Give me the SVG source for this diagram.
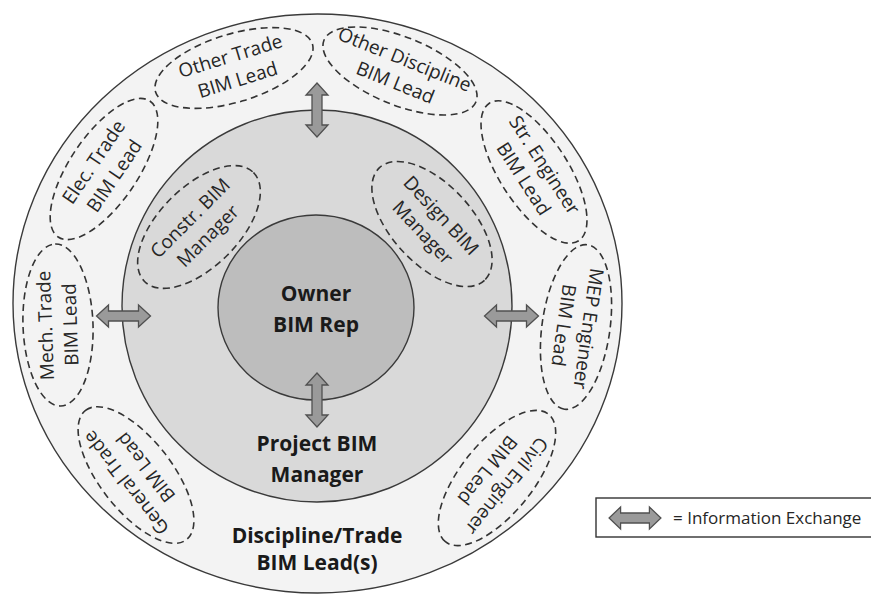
<svg xmlns="http://www.w3.org/2000/svg" xmlns:xlink="http://www.w3.org/1999/xlink" width="871" height="595" viewBox="0 0 871 595">
  <style>
    .ring { stroke: #3a3a3a; stroke-width: 1.4; }
    .dash { fill: none; stroke: #333; stroke-width: 1.6; stroke-dasharray: 7 4.5; }
    .lbl { font-family: "Open Sans", "Noto Sans", sans-serif; font-size: 19px; fill: #262626; text-anchor: middle; }
    .big { font-family: "Open Sans", "Noto Sans", sans-serif; font-size: 21px; font-weight: bold; fill: #1a1a1a; text-anchor: middle; }
    .arrow { fill: #9a9a9a; stroke: #505050; stroke-width: 1.3; stroke-linejoin: miter; }
    .legend { font-family: "Open Sans", "Noto Sans", sans-serif; font-size: 17px; fill: #262626; }
  </style>
  <defs>
    <path id="dbl" d="M -27 0 L -15 -11 L -15 -5 L 15 -5 L 15 -11 L 27 0 L 15 11 L 15 5 L -15 5 L -15 11 Z"/>
  </defs>
  <rect x="0" y="0" width="871" height="595" fill="#ffffff"/>

  <g id="ring-discipline">
    <ellipse class="ring" cx="317.5" cy="303.5" rx="304.5" ry="289.5" fill="#f3f3f3"/>
    <text class="big" x="317" y="542.5">Discipline/Trade</text>
    <text class="big" x="317" y="570">BIM Lead(s)</text>
  </g>
  <g id="ring-project">
    <ellipse class="ring" cx="317" cy="306" rx="195" ry="196" fill="#d9d9d9"/>
    <text class="big" x="317" y="450.5">Project BIM</text>
    <text class="big" x="317" y="482">Manager</text>
  </g>
  <g id="ring-owner">
    <ellipse class="ring" cx="316" cy="307.5" rx="98" ry="92.5" fill="#bdbdbd"/>
    <text class="big" x="316" y="300.5">Owner</text>
    <text class="big" x="316" y="331.5">BIM Rep</text>
  </g>

  <g id="n-other-trade" transform="translate(234,68) rotate(-17)">
    <ellipse class="dash" rx="82" ry="34"/>
    <text class="lbl" y="-6">Other Trade</text>
    <text class="lbl" y="19">BIM Lead</text>
  </g>
  <g id="n-other-discipline" transform="translate(400,71) rotate(22)">
    <ellipse class="dash" rx="82" ry="34"/>
    <text class="lbl" y="-6">Other Discipline</text>
    <text class="lbl" y="19">BIM Lead</text>
  </g>
  <g id="n-str-engineer" transform="translate(534,172) rotate(57)">
    <ellipse class="dash" rx="82" ry="34"/>
    <text class="lbl" y="-6">Str. Engineer</text>
    <text class="lbl" y="19">BIM Lead</text>
  </g>
  <g id="n-mep-engineer" transform="translate(576,327) rotate(98)">
    <ellipse class="dash" rx="83" ry="34"/>
    <text class="lbl" y="-6">MEP Engineer</text>
    <text class="lbl" y="19">BIM Lead</text>
  </g>
  <g id="n-civil-engineer" transform="translate(497,478) rotate(129)">
    <ellipse class="dash" rx="82" ry="36"/>
    <text class="lbl" y="-6">Civil Engineer</text>
    <text class="lbl" y="19">BIM Lead</text>
  </g>
  <g id="n-general-trade" transform="translate(136,475) rotate(-128)">
    <ellipse class="dash" rx="82" ry="36"/>
    <text class="lbl" y="-6">General Trade</text>
    <text class="lbl" y="19">BIM Lead</text>
  </g>
  <g id="n-mech-trade" transform="translate(58,325) rotate(-92)">
    <ellipse class="dash" rx="81" ry="35"/>
    <text class="lbl" y="-6">Mech. Trade</text>
    <text class="lbl" y="19">BIM Lead</text>
  </g>
  <g id="n-elec-trade" transform="translate(104,169) rotate(-56)">
    <ellipse class="dash" rx="82" ry="34"/>
    <text class="lbl" y="-6">Elec. Trade</text>
    <text class="lbl" y="19">BIM Lead</text>
  </g>
  <g id="n-constr-bim" transform="translate(199,227) rotate(-45)">
    <ellipse class="dash" rx="77" ry="40"/>
    <text class="lbl" y="-6">Constr. BIM</text>
    <text class="lbl" y="19">Manager</text>
  </g>
  <g id="n-design-bim" transform="translate(432,224) rotate(47)">
    <ellipse class="dash" rx="77" ry="40"/>
    <text class="lbl" y="-6">Design BIM</text>
    <text class="lbl" y="19">Manager</text>
  </g>

  <g id="connectors">
    <use xlink:href="#dbl" href="#dbl" class="arrow" transform="translate(317,110) rotate(90)"/>
    <use xlink:href="#dbl" href="#dbl" class="arrow" transform="translate(317,400) rotate(90)"/>
    <use xlink:href="#dbl" href="#dbl" class="arrow" transform="translate(123.5,316)"/>
    <use xlink:href="#dbl" href="#dbl" class="arrow" transform="translate(511.5,316)"/>
  </g>

  <g id="legend">
    <rect x="596" y="498" width="280" height="39" fill="#ffffff" stroke="#333" stroke-width="1.4"/>
    <use xlink:href="#dbl" href="#dbl" class="arrow" transform="translate(635,518) scale(0.96,1)"/>
    <text class="legend" x="673" y="524">= Information Exchange</text>
  </g>
</svg>
